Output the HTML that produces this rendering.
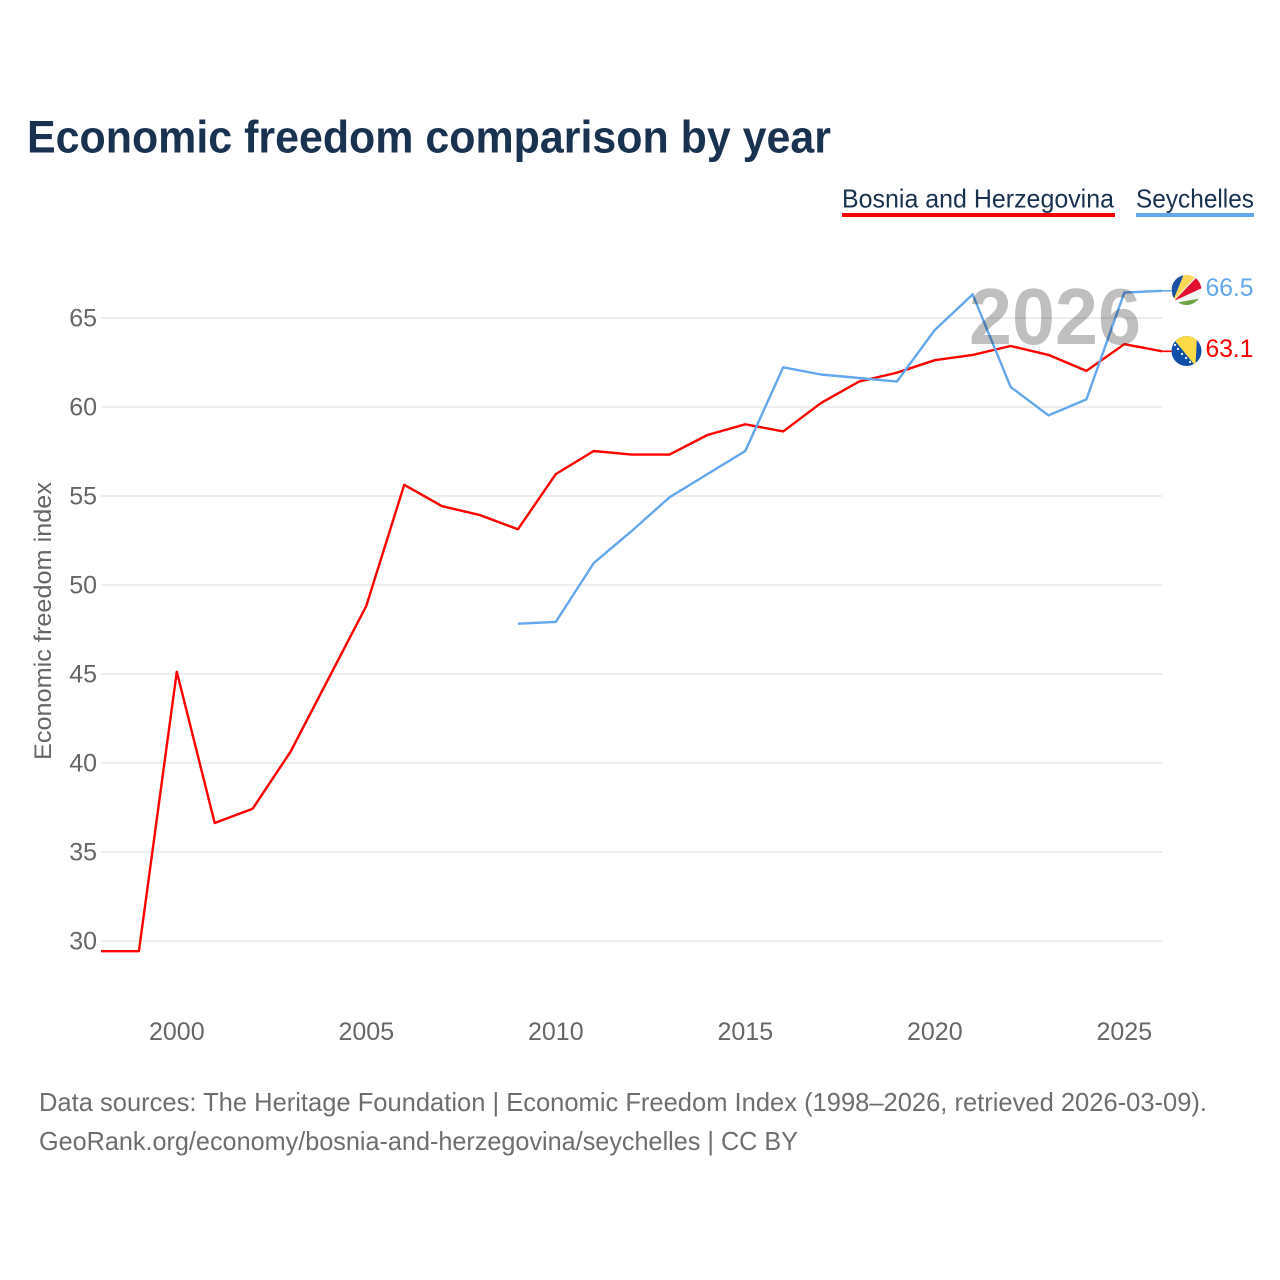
<!DOCTYPE html>
<html lang="en">
<head>
<meta charset="utf-8">
<title>Economic freedom comparison by year</title>
<style>
html,body{margin:0;padding:0;background:#fff;}
svg{display:block;font-family:"Liberation Sans","DejaVu Sans",sans-serif;}
</style>
</head>
<body>
<svg id="chart" xmlns="http://www.w3.org/2000/svg" width="1280" height="1280" viewBox="0 0 1280 1280">
  <defs>
    <clipPath id="flag-clip-sc"><circle cx="1186.5" cy="290" r="15"/></clipPath>
    <clipPath id="flag-clip-ba"><circle cx="1186.5" cy="351" r="15"/></clipPath>
  </defs>
  <rect width="1280" height="1280" fill="#fff"/>
  <text x="27" y="152.5" font-size="45" font-weight="700" fill="#18324f" textLength="804" lengthAdjust="spacingAndGlyphs">Economic freedom comparison by year</text>

  <g>
    <text x="842" y="207.5" font-size="26" fill="#18324f" textLength="272" lengthAdjust="spacingAndGlyphs">Bosnia and Herzegovina</text>
    <rect x="842" y="213" width="273" height="4" fill="#ff0000"/>
  </g>
  <g>
    <text x="1136" y="207.5" font-size="26" fill="#18324f" textLength="118" lengthAdjust="spacingAndGlyphs">Seychelles</text>
    <rect x="1136" y="213" width="118" height="4" fill="#63a7ee"/>
  </g>

  <g id="grid"></g>
  <g id="y-ticks"></g>
  <g id="x-ticks"></g>
  <text transform="translate(51 621) rotate(-90)" text-anchor="middle" font-size="24" fill="#666" textLength="278" lengthAdjust="spacingAndGlyphs">Economic freedom index</text>

  <g id="series"></g>

  <text x="969" y="344" font-size="80" font-weight="700" fill="#000" fill-opacity="0.25" textLength="172" lengthAdjust="spacingAndGlyphs">2026</text>

  <g clip-path="url(#flag-clip-sc)">
    <rect x="1171" y="275" width="31" height="31" fill="#f4f4f4"/>
    <polygon points="1173,301 1170,274 1184,274" fill="#1a4fa3"/>
    <polygon points="1173,301 1184,274 1197,275" fill="#fcd856"/>
    <polygon points="1174,301 1197,277 1202,288" fill="#e2102f"/>
    <polygon points="1175,303 1202,298 1202,307 1175,307" fill="#6da544"/>
  </g>
  <g clip-path="url(#flag-clip-ba)">
    <rect x="1171" y="336" width="31" height="31" fill="#0f4fa8"/>
    <polygon points="1171,336 1197,336 1195.5,366" fill="#ffd947"/>
    <g fill="#fff">
      <circle cx="1175" cy="345" r="1.1"/><circle cx="1178" cy="349" r="1.1"/><circle cx="1182" cy="354" r="1.1"/><circle cx="1186" cy="358" r="1.1"/><circle cx="1190" cy="362" r="1.1"/>
    </g>
  </g>

  <text id="end-label-sc" x="1205.5" y="296" font-size="25" fill="#63a7ee" textLength="48" lengthAdjust="spacingAndGlyphs"></text>
  <text id="end-label-ba" x="1205.5" y="357" font-size="25" fill="#ff0000" textLength="48" lengthAdjust="spacingAndGlyphs"></text>

  <text x="39" y="1111" font-size="26" fill="#6e6e6e" textLength="1168" lengthAdjust="spacingAndGlyphs">Data sources: The Heritage Foundation | Economic Freedom Index (1998–2026, retrieved 2026-03-09).</text>
  <text x="39" y="1150" font-size="26" fill="#6e6e6e" textLength="759" lengthAdjust="spacingAndGlyphs">GeoRank.org/economy/bosnia-and-herzegovina/seychelles | CC BY</text>
</svg>
<script>
const bosniaYears = [1998,1999,2000,2001,2002,2003,2004,2005,2006,2007,2008,2009,2010,2011,2012,2013,2014,2015,2016,2017,2018,2019,2020,2021,2022,2023,2024,2025,2026];
const bosniaValues = [29.4,29.4,45.1,36.6,37.4,40.6,44.7,48.8,55.6,54.4,53.9,53.1,56.2,57.5,57.3,57.3,58.4,59.0,58.6,60.2,61.4,61.9,62.6,62.9,63.4,62.9,62.0,63.5,63.1];
const seychellesYears = [2009,2010,2011,2012,2013,2014,2015,2016,2017,2018,2019,2020,2021,2022,2023,2024,2025,2026];
const seychellesValues = [47.8,47.9,51.2,53.0,54.9,56.2,57.5,62.2,61.8,61.6,61.4,64.3,66.3,61.1,59.5,60.4,66.4,66.5];
const yTickValues = [30,35,40,45,50,55,60,65];
const xTickValues = [2000,2005,2010,2015,2020,2025];

const NS = 'http://www.w3.org/2000/svg';
function xScale(year) { return 101 + (year - 1998) * 37.9; }
function yScale(value) { return 941 - (value - 30) * 17.8; }
function make(tag, attrs, parent) {
  const el = document.createElementNS(NS, tag);
  for (const k in attrs) el.setAttribute(k, attrs[k]);
  parent.appendChild(el);
  return el;
}

const grid = document.getElementById('grid');
const yTicks = document.getElementById('y-ticks');
const xTicks = document.getElementById('x-ticks');
const series = document.getElementById('series');

yTickValues.forEach(function (v) {
  const line = make('line', {x1: 101, x2: xScale(2026), y1: yScale(v), y2: yScale(v), stroke: '#eeeeee', 'stroke-width': 2}, grid);
  
  
  const label = make('text', {x: 97, y: yScale(v) + 8.5, 'text-anchor': 'end', 'font-size': 25, fill: '#666'}, yTicks);
  
  
  label.textContent = v;
});

xTickValues.forEach(function (v) {
  const label = make('text', {x: xScale(v), y: 1040, 'text-anchor': 'middle', 'font-size': 25, fill: '#666'}, xTicks);
  
  
  label.textContent = v;
});

function pathFor(years, values) {
  return years.map(function (yr, i) {
    return (i ? 'L' : 'M') + xScale(yr).toFixed(1) + ' ' + (yScale(values[i]) - 0.5).toFixed(1);
  }).join(' ');
}

const bosniaLine = make('path', {d: pathFor(bosniaYears, bosniaValues), fill: 'none', stroke: '#ff0000', 'stroke-width': 2.4, 'stroke-linejoin': 'round'}, series);



const seychellesLine = make('path', {d: pathFor(seychellesYears, seychellesValues), fill: 'none', stroke: '#63a7ee', 'stroke-width': 2.4, 'stroke-linejoin': 'round'}, series);



const lastB = bosniaValues[bosniaValues.length - 1];
const lastS = seychellesValues[seychellesValues.length - 1];

const bosniaLeader = make('line', {x1: xScale(2026), x2: 1172, y1: yScale(lastB) - 0.5, y2: yScale(lastB) - 0.5, stroke: '#ff0000', 'stroke-width': 1.6}, series);



const seychellesLeader = make('line', {x1: xScale(2026), x2: 1172, y1: yScale(lastS) - 0.5, y2: yScale(lastS) - 0.5, stroke: '#63a7ee', 'stroke-width': 1.6}, series);



document.getElementById('end-label-ba').textContent = lastB.toFixed(1);
document.getElementById('end-label-sc').textContent = lastS.toFixed(1);
</script>
</body>
</html>
